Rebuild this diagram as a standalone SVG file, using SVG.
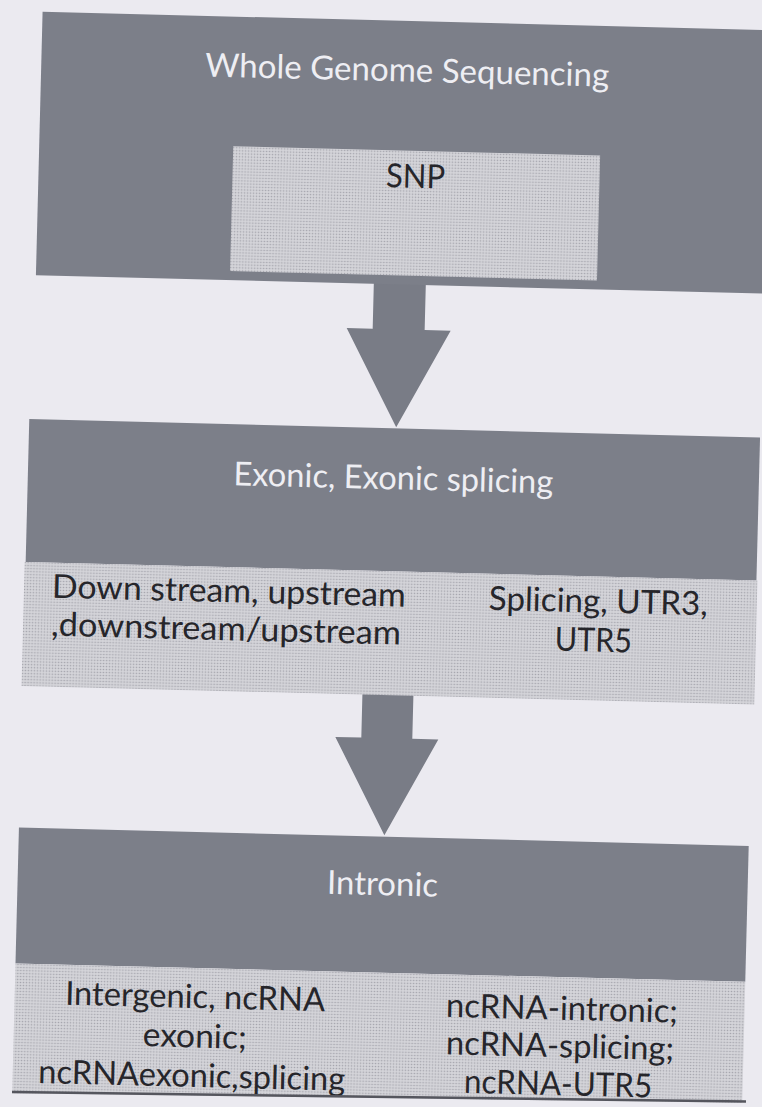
<svg xmlns="http://www.w3.org/2000/svg" width="762" height="1107" viewBox="0 0 762 1107">
  <style>
    .dark { fill: #7c7f89; }
    .light { fill: url(#dots); }
    .arrow { fill: #797c86; }
    .tl { fill: #eeeef3; font-family: Lato, "Liberation Sans", sans-serif; font-size: 33px; text-anchor: middle; }
    .td { fill: #26262b; font-family: Lato, "Liberation Sans", sans-serif; font-size: 33px; text-anchor: middle; }
  </style>
  <defs>
    <pattern id="dots" width="3" height="3" patternUnits="userSpaceOnUse">
      <rect width="3" height="3" fill="#d4d4d9"/>
      <circle cx="1.5" cy="1.5" r="0.8" fill="#a4a4ac"/>
    </pattern>
  </defs>
  <rect x="0" y="0" width="762" height="1107" fill="#ebeaf0"/>
  <g transform="rotate(1.45 381 553)">
    <g id="connectors">
      <polygon class="arrow" points="367,282 419,282 419,329 445,329 393,427 341,329 367,329"/>
      <polygon class="arrow" points="366,694 417,694 417,738 443,738 391.5,835 340,738 366,738"/>
    </g>
    <g id="node-wgs">
      <rect class="dark" x="29" y="20.5" width="770" height="263.5"/>
      <text class="tl" x="395" y="81" textLength="404" lengthAdjust="spacingAndGlyphs">Whole Genome Sequencing</text>
    </g>
    <g id="node-snp">
      <rect class="light" x="223" y="150" width="367" height="125"/>
      <text class="td" x="406" y="187" textLength="59" lengthAdjust="spacingAndGlyphs">SNP</text>
    </g>
    <g id="node-exonic">
      <rect class="dark" x="26" y="428" width="731" height="143"/>
      <rect class="light" x="25" y="571" width="733" height="124"/>
      <text class="tl" x="391.5" y="489" textLength="320" lengthAdjust="spacingAndGlyphs">Exonic, Exonic splicing</text>
      <text class="td" x="230" y="606" textLength="354" lengthAdjust="spacingAndGlyphs">Down stream, upstream</text>
      <text class="td" x="228" y="644" textLength="350" lengthAdjust="spacingAndGlyphs">,downstream/upstream</text>
      <text class="td" x="599.5" y="607" textLength="219" lengthAdjust="spacingAndGlyphs">Splicing, UTR3,</text>
      <text class="td" x="595.5" y="646" textLength="77" lengthAdjust="spacingAndGlyphs">UTR5</text>
    </g>
    <g id="node-intronic">
      <rect class="dark" x="26" y="836.5" width="730" height="136"/>
      <polygon class="light" points="26,972.5 756,972.5 756,1110 26,1115"/>
      <text class="tl" x="391" y="895" textLength="111" lengthAdjust="spacingAndGlyphs">Intronic</text>
      <text class="td" x="206.5" y="1012.5" textLength="260" lengthAdjust="spacingAndGlyphs">Intergenic, ncRNA</text>
      <text class="td" x="207" y="1052" textLength="104" lengthAdjust="spacingAndGlyphs">exonic;</text>
      <text class="td" x="205" y="1091.5" textLength="307" lengthAdjust="spacingAndGlyphs">ncRNAexonic,splicing</text>
      <text class="td" x="573.5" y="1015" textLength="232" lengthAdjust="spacingAndGlyphs">ncRNA-intronic;</text>
      <text class="td" x="572.5" y="1052.5" textLength="228" lengthAdjust="spacingAndGlyphs">ncRNA-splicing;</text>
      <text class="td" x="571.5" y="1090.5" textLength="188" lengthAdjust="spacingAndGlyphs">ncRNA-UTR5</text>
    </g>
  </g>
  <polygon points="0,1093 762,1103 762,1107 0,1107" fill="#ebeaf0"/>
  <line x1="12" y1="1092" x2="746" y2="1101.5" stroke="#55565e" stroke-width="2.5"/>
</svg>
